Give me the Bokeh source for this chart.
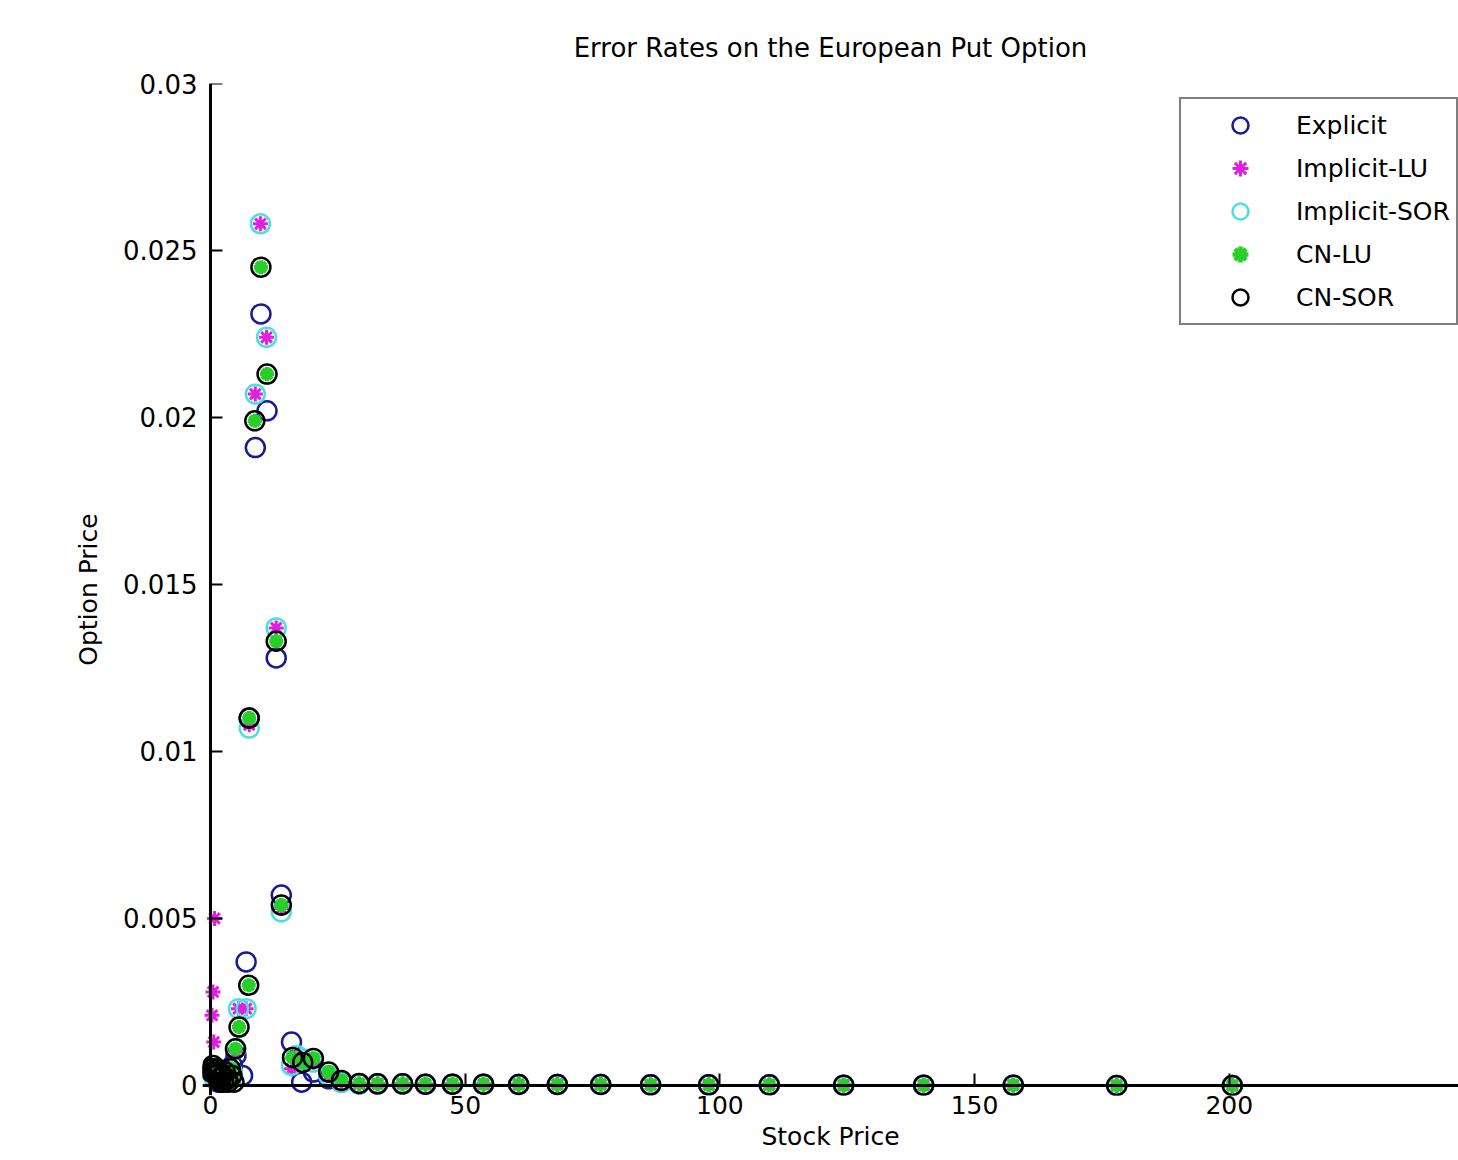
from bokeh.plotting import figure
from bokeh.models import ColumnDataSource, Range1d, FixedTicker, Legend, LegendItem, LinearAxis
from bokeh.embed import file_html
from bokeh.resources import INLINE

# ---------------- data ----------------
# Far part of the stock-price grid (all methods ~0 error there)
far_prices = [32.8, 37.7, 42.2, 47.5, 53.6, 60.5, 68.1, 76.6, 86.4, 97.8,
              109.7, 124.3, 140.0, 157.6, 177.9, 200.6]
far_errors = [0.00005, 0.00005, 0.00004, 0.00004, 0.00004, 0.00003, 0.00003, 0.00003,
              0.00002, 0.00002, 0.00002, 0.00001, 0.00001, 0.00001, 0.0, 0.0]

explicit_x = [0.3, 0.6, 1.0, 1.5, 2.1, 2.8, 3.6, 4.3, 5.0, 6.3, 7.0, 7.6, 8.8, 9.9,
              11.1, 12.9, 13.9, 15.9, 17.9, 20.2, 23.2, 25.7, 29.2]
explicit_y = [0.0004, 0.0003, 0.0002, 0.0001, 0.0001, 0.0002, 0.0003, 0.0006, 0.0009,
              0.0003, 0.0037, 0.0110, 0.0191, 0.0231, 0.0202, 0.0128, 0.0057, 0.0013,
              0.0001, 0.0004, 0.0002, 0.0001, 0.00005]

implicit_lu_x = [0.3, 0.5, 0.65, 0.8, 1.2, 1.8, 2.6, 3.5, 4.3, 5.0, 5.5, 7.0, 7.6, 8.8,
                 9.8, 11.0, 12.9, 13.9, 15.9, 16.9, 18.1, 20.2, 23.2, 25.7, 29.2]
implicit_lu_y = [0.0021, 0.0028, 0.0013, 0.0050, 0.0003, 0.0002, 0.0002, 0.0003, 0.0004,
                 0.0010, 0.0023, 0.0023, 0.0108, 0.0207, 0.0258, 0.0224, 0.0137, 0.0053,
                 0.0005, 0.0009, 0.0007, 0.0007, 0.0003, 0.0001, 0.00005]

implicit_sor_x = [0.3, 0.5, 0.65, 0.8, 1.2, 1.8, 2.6, 3.5, 4.3, 5.0, 5.5, 7.0, 7.6, 8.8,
                  9.8, 11.0, 12.9, 13.9, 15.9, 16.9, 18.1, 20.2, 23.2, 25.7, 29.2]
implicit_sor_y = [0.0004, 0.0003, 0.0003, 0.0002, 0.0003, 0.0002, 0.0002, 0.0003, 0.0004,
                  0.0011, 0.0023, 0.0023, 0.0107, 0.0207, 0.0258, 0.0224, 0.0137, 0.0052,
                  0.0006, 0.0009, 0.0008, 0.0007, 0.0003, 0.0001, 0.00005]

cn_lu_x = [0.2, 0.3, 0.5, 0.8, 1.1, 1.3, 1.5, 1.8, 2.0, 2.3, 2.6, 2.9, 3.3, 3.5, 3.9,
           4.2, 4.6, 4.9, 5.6, 7.5, 7.6, 8.7, 9.9, 11.1, 12.9, 13.9, 16.1, 18.1, 20.2,
           23.2, 25.7, 29.2]
cn_lu_y = [0.0004, 0.0005, 0.0006, 0.0004, 0.0003, 0.0005, 0.0002, 0.0004, 0.0001,
           0.0003, 0.0001, 0.0004, 0.0002, 0.0001, 0.0005, 0.0003, 0.0001, 0.0011,
           0.00175, 0.0030, 0.0110, 0.0199, 0.0245, 0.0213, 0.0133, 0.0054, 0.00084,
           0.00069, 0.00081, 0.0004, 0.00015, 0.00006]

cn_sor_x = [0.2, 0.3, 0.5, 0.8, 1.1, 1.3, 1.5, 1.8, 2.0, 2.3, 2.6, 2.9, 3.3, 3.5, 3.9,
            4.2, 4.6, 4.9, 5.6, 7.5, 7.6, 8.7, 9.9, 11.1, 12.9, 13.9, 16.1, 18.1, 20.2,
            23.2, 25.7, 29.2]
cn_sor_y = [0.0004, 0.0005, 0.0006, 0.0004, 0.0003, 0.0005, 0.0002, 0.0004, 0.0001,
            0.0003, 0.0001, 0.0004, 0.0002, 0.0001, 0.0005, 0.0003, 0.0001, 0.0011,
            0.00175, 0.0030, 0.0110, 0.0199, 0.0245, 0.0213, 0.0133, 0.0054, 0.00084,
            0.00069, 0.00081, 0.0004, 0.00015, 0.00006]

series_names = ["Explicit", "Implicit-LU", "Implicit-SOR", "CN-LU", "CN-SOR"]

x_ticks = [0, 50, 100, 150, 200]
y_ticks = [0, 0.005, 0.01, 0.015, 0.02, 0.025, 0.03]
y_tick_labels = ["0", "0.005", "0.01", "0.015", "0.02", "0.025", "0.03"]

FONT = "DejaVu Sans"

# ---------------- figure ----------------
p = figure(width=1458, height=1160, output_backend="svg", toolbar_location=None,
           x_range=Range1d(-1.57, 245.0), y_range=Range1d(-0.0003, 0.03),
           min_border_left=202, min_border_right=0, min_border_top=83,
           min_border_bottom=65)
p.background_fill_color = "white"
p.border_fill_color = "white"
p.outline_line_color = None
p.xgrid.visible = False
p.ygrid.visible = False

p.title.text = "Error Rates on the European Put Option"
p.title.align = "center"
p.title.text_font = FONT
p.title.text_font_size = "26px"
p.title.text_font_style = "normal"
p.title.text_color = "black"
p.title.standoff = 42

# label-only axes at the frame edges
for ax in (p.xaxis[0], p.yaxis[0]):
    ax.axis_line_color = None
    ax.major_tick_line_color = None
    ax.minor_tick_line_color = None
    ax.major_tick_in = 0
    ax.major_tick_out = 0
    ax.major_label_text_font = FONT
    ax.major_label_text_color = "black"
    ax.axis_label_text_font = FONT
    ax.axis_label_text_font_style = "normal"
    ax.axis_label_text_font_size = "25px"
    ax.axis_label_text_color = "black"

p.xaxis[0].ticker = FixedTicker(ticks=x_ticks)
p.xaxis[0].major_label_text_font_size = "25px"
p.xaxis[0].major_label_standoff = 0
p.xaxis[0].axis_label = "Stock Price"
p.xaxis[0].axis_label_standoff = 5

p.yaxis[0].ticker = FixedTicker(ticks=y_ticks)
p.yaxis[0].major_label_overrides = {t: l for t, l in zip(y_ticks, y_tick_labels)}
p.yaxis[0].major_label_text_font_size = "26px"
p.yaxis[0].major_label_standoff = 5
p.yaxis[0].axis_label = "Option Price"
p.yaxis[0].axis_label_standoff = 17

# axis lines + inward ticks placed exactly at x=0 / y=0
def line_axis(ticks):
    return LinearAxis(fixed_location=0, ticker=FixedTicker(ticks=ticks),
                      axis_line_width=3, axis_line_color="black",
                      major_tick_in=12, major_tick_out=0, major_tick_line_width=2,
                      major_tick_line_color="black", minor_tick_line_color=None,
                      major_label_text_alpha=0, major_label_text_font_size="1px")

p.add_layout(line_axis(x_ticks), "below")
p.add_layout(line_axis(y_ticks), "left")

def src(xs, ys):
    return ColumnDataSource(dict(x=xs + far_prices, y=ys + far_errors))

r_ex = p.scatter("x", "y", source=src(explicit_x, explicit_y), marker="circle", size=19,
                 fill_color=None, line_color="#1a1a96", line_width=2.5)
r_ilu = p.scatter("x", "y", source=src(implicit_lu_x, implicit_lu_y), marker="asterisk",
                  size=15, line_color="#e01fe0", line_width=3)
r_isor = p.scatter("x", "y", source=src(implicit_sor_x, implicit_sor_y), marker="circle",
                   size=19, fill_color=None, line_color="#4fdede", line_width=2.5)
r_cnlu = p.scatter("x", "y", source=src(cn_lu_x, cn_lu_y), marker="asterisk", size=14,
                   line_color="#29cf29", line_width=4.5)
r_cnsor = p.scatter("x", "y", source=src(cn_sor_x, cn_sor_y), marker="circle", size=19,
                    fill_color=None, line_color="black", line_width=2.5)

renderers = [r_ex, r_ilu, r_isor, r_cnlu, r_cnsor]
legend = Legend(items=[LegendItem(label=n, renderers=[r]) for n, r in zip(series_names, renderers)],
                location=(977, 770), margin=0, padding=6, spacing=3,
                glyph_width=106, glyph_height=40, label_height=40, label_standoff=3,
                label_text_font=FONT, label_text_font_size="25px", label_text_color="black",
                border_line_color="black", border_line_width=2,
                background_fill_color="white", background_fill_alpha=1.0)
p.add_layout(legend)

open("out.html", "w").write(file_html(p, INLINE))
